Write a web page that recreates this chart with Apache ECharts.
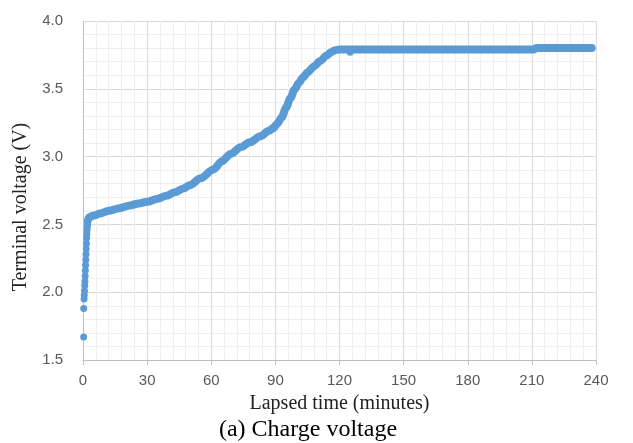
<!DOCTYPE html>
<html>
<head>
<meta charset="utf-8">
<script src="https://cdn.jsdelivr.net/npm/echarts@6/dist/echarts.min.js"></script>
<style>html,body{margin:0;padding:0;background:#fff}#c{width:633px;height:443px}</style>
</head>
<body>
<div id="c"></div>
<script>
// Early sparse samples (scattered dots) and an isolated dip point
var dotTimes = [0.3, 0.35, 0.5, 0.6, 0.7, 0.8, 0.9, 1.0, 1.1, 1.2, 1.3, 1.4, 1.5, 1.6, 1.7, 1.8, 1.9, 2.0, 2.1, 2.2, 125];
var dotVolts = [1.67, 1.88, 1.95, 1.98, 2.01, 2.05, 2.08, 2.12, 2.16, 2.2, 2.24, 2.28, 2.32, 2.36, 2.4, 2.43, 2.46, 2.48, 2.5, 2.52, 3.77];
// Dense continuous record
var lineTimes = [2.3, 3, 5, 8, 12, 17, 22, 26, 30, 35, 39, 43, 47, 50, 55, 61, 65, 69, 74, 78, 83, 87, 89, 91, 93, 95, 97, 99, 101, 103, 105, 108, 111, 114, 116, 118, 120, 130, 140, 160, 180, 200, 211, 212, 225, 238];
var lineVolts = [2.53, 2.555, 2.565, 2.58, 2.60, 2.62, 2.64, 2.655, 2.667, 2.69, 2.712, 2.737, 2.765, 2.79, 2.84, 2.905, 2.965, 3.02, 3.07, 3.105, 3.15, 3.19, 3.21, 3.245, 3.29, 3.36, 3.43, 3.495, 3.545, 3.585, 3.62, 3.665, 3.705, 3.745, 3.77, 3.785, 3.79, 3.79, 3.79, 3.79, 3.79, 3.79, 3.79, 3.80, 3.80, 3.80];
var xTicks = [0, 30, 60, 90, 120, 150, 180, 210, 240];
var yTicks = [1.5, 2.0, 2.5, 3.0, 3.5, 4.0];
var xTitle = 'Lapsed time (minutes)';
var yTitle = 'Terminal voltage (V)';
var caption = '(a) Charge voltage';

var blue = '#5b9bd5';
var chart = echarts.init(document.getElementById('c'), null, {renderer: 'canvas'});
chart.setOption({
  animation: false,
  grid: {left: 83, right: 37, top: 21, bottom: 83, containLabel: false},
  xAxis: {
    type: 'value', min: xTicks[0], max: xTicks[xTicks.length - 1], interval: 30,
    axisLine: {show: true, lineStyle: {color: '#bfbfbf', width: 1}},
    axisTick: {show: true, length: 5, lineStyle: {color: '#bfbfbf'}},
    axisLabel: {color: '#595959', fontFamily: 'Liberation Sans', fontSize: 15, margin: 13},
    splitLine: {show: true, lineStyle: {color: '#d9d9d9', width: 1}},
    minorTick: {show: false, splitNumber: 5},
    minorSplitLine: {show: true, lineStyle: {color: '#efefef', width: 1}},
    name: xTitle, nameLocation: 'middle', nameGap: 34,
    nameTextStyle: {fontFamily: 'Liberation Serif', fontSize: 20, color: '#222'}
  },
  yAxis: {
    type: 'value', min: yTicks[0], max: yTicks[yTicks.length - 1], interval: 0.5,
    axisLine: {show: true, lineStyle: {color: '#bfbfbf', width: 1}},
    axisTick: {show: false},
    axisLabel: {color: '#595959', fontFamily: 'Liberation Sans', fontSize: 15, margin: 20,
      formatter: function (v) { return v.toFixed(1); }},
    splitLine: {show: true, lineStyle: {color: '#d9d9d9', width: 1}},
    minorTick: {show: false, splitNumber: 5},
    minorSplitLine: {show: true, lineStyle: {color: '#efefef', width: 1}}
  },
  graphic: [
    {type: 'text', x: 21, y: 207, rotation: Math.PI / 2,
      style: {text: yTitle, font: '20px "Liberation Serif"', fill: '#222', align: 'center', verticalAlign: 'middle'}},
    {type: 'text', x: 308, y: 430,
      style: {text: caption, font: '24px "Liberation Serif"', fill: '#000', align: 'center', verticalAlign: 'middle'}}
  ],
  series: [
    {
      type: 'line', data: lineTimes.map(function (t, i) { return [t, lineVolts[i]]; }),
      showSymbol: false, smooth: 0.3, smoothMonotone: 'x',
      lineStyle: {color: blue, width: 8, cap: 'round', join: 'round'},
      z: 3
    },
    {
      type: 'scatter', data: dotTimes.map(function (t, i) { return [t, dotVolts[i]]; }),
      symbol: 'circle', symbolSize: 7, itemStyle: {color: blue, opacity: 1},
      z: 4
    }
  ]
});
</script>
</body>
</html>
